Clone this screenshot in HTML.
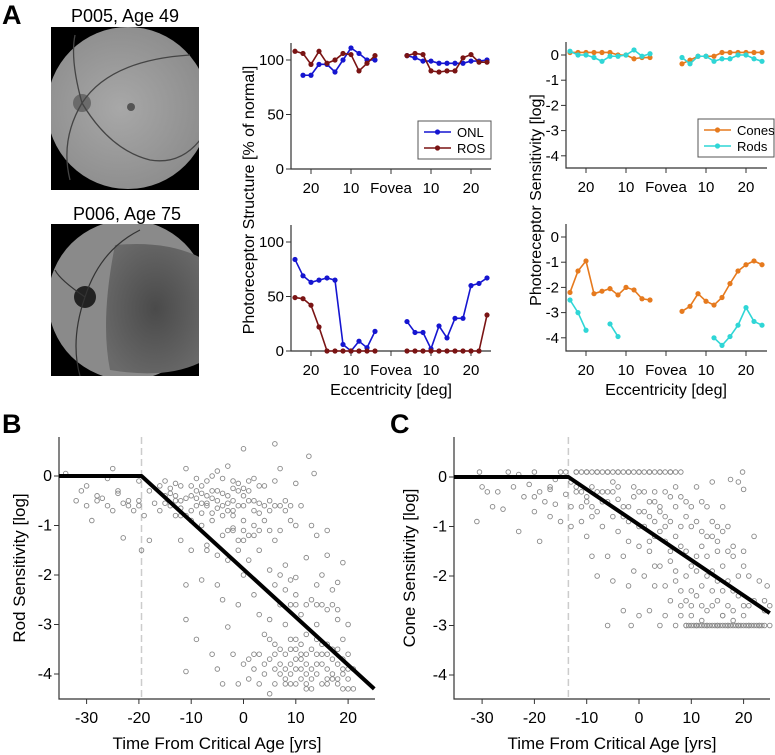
<!DOCTYPE html>
<html><head><meta charset="utf-8"><style>
body{margin:0;background:#fff}
svg{display:block;font-family:"Liberation Sans",Arial,sans-serif}
</style></head><body>
<svg id="fig" width="775" height="755" viewBox="0 0 775 755" xmlns="http://www.w3.org/2000/svg">
<defs>
<radialGradient id="g1" cx="0.45" cy="0.5" r="0.6"><stop offset="0" stop-color="#a8a8a8"/><stop offset="1" stop-color="#8a8a8a"/></radialGradient>
<radialGradient id="g2" cx="0.5" cy="0.5" r="0.6"><stop offset="0" stop-color="#4a4a4a"/><stop offset="1" stop-color="#6a6a6a"/></radialGradient>
<clipPath id="c1"><rect x="51" y="27" width="148" height="163"/></clipPath>
<clipPath id="c2"><rect x="51" y="224" width="148" height="152"/></clipPath>
</defs>
<text x="2" y="24" font-size="27" font-weight="bold">A</text>
<text x="2" y="433" font-size="27" font-weight="bold">B</text>
<text x="390" y="433" font-size="27" font-weight="bold">C</text>
<text x="125" y="22" font-size="18" text-anchor="middle">P005, Age 49</text>
<text x="127" y="220" font-size="18" text-anchor="middle">P006, Age 75</text>
<g>
<rect x="51" y="27" width="148" height="163" fill="#000"/>
<g clip-path="url(#c1)"><circle cx="128" cy="108" r="81" fill="url(#g1)"/>
<circle cx="82" cy="103" r="9" fill="#555" opacity=".7"/><circle cx="131" cy="107" r="4" fill="#555"/>
<path d="M82 103 Q110 60 190 55 M82 103 Q110 150 150 160 Q180 165 200 140 M82 103 Q70 60 75 35 M82 103 Q60 140 70 180" stroke="#444" stroke-width="1.3" fill="none"/></g>
</g>
<g>
<rect x="51" y="224" width="148" height="152" fill="#000"/>
<g clip-path="url(#c2)"><circle cx="128" cy="300" r="80" fill="#8a8a8a"/>
<path d="M115 245 Q170 240 205 260 L205 360 Q170 380 110 370 Q100 320 115 245Z" fill="url(#g2)"/>
<circle cx="85" cy="297" r="11" fill="#222"/>
<path d="M85 297 Q100 250 140 230 M85 297 Q70 340 80 376 M85 297 Q60 280 55 270" stroke="#333" stroke-width="1.2" fill="none"/></g>
</g>
<g id="plots"></g>
</svg>
<script>
// ---- Panel A data (eccentricity in deg, negative = left of fovea) ----
const eccLeft = [-24,-22,-20,-18,-16,-14,-12,-10,-8,-6,-4];
const eccRight = [4,6,8,10,12,14,16,18,20,22,24];
const onlTopL = [null,86,86,96,96,89,100,111,106,100,100];
const onlTopR = [104,102,99,99,97,97,97,97,99,99,100];
const rosTopL = [108,106,96,108,97,100,106,105,90,97,104];
const rosTopR = [104,106,105,90,89,90,90,102,105,98,98];
const onlBotL = [84,69,63,65,67,65,6,0,9,3,18];
const onlBotR = [27,17,17,2,23,12,30,30,60,62,67];
const rosBotL = [49,48,42,22,0,0,0,0,0,0,0];
const rosBotR = [0,0,0,0,0,0,0,0,0,0,33];
const coneTopL = [0.1,0.1,0.1,0.1,0.1,0.1,0,0,-0.15,-0.1,-0.1];
const coneTopR = [-0.35,-0.2,-0.05,-0.05,-0.05,0.1,0.1,0.1,0.1,0.1,0.1];
const rodTopL = [0.15,0,0,-0.1,-0.25,-0.05,-0.05,0,0.2,-0.05,0.05];
const rodTopR = [-0.1,-0.35,-0.05,-0.05,-0.25,-0.15,-0.15,0,0,-0.15,-0.25];
const coneBotL = [-2.2,-1.35,-0.95,-2.25,-2.15,-2.05,-2.3,-2.0,-2.1,-2.45,-2.5];
const coneBotR = [-2.95,-2.75,-2.25,-2.55,-2.7,-2.4,-1.85,-1.35,-1.1,-0.95,-1.1];
const rodBotL = [-2.5,-3.0,-3.7,null,null,-3.45,-3.95,null,null,null,null];
const rodBotR = [null,null,null,null,-4.0,-4.3,-3.95,-3.5,-2.8,-3.35,-3.5];
const eccTicks = [-20,-10,0,10,20];
const eccTickLabels = ["20","10","Fovea","10","20"];
const pctTicks = [0,50,100];
const logTicksA = [0,-1,-2,-3,-4];
// ---- Panel B/C data ----
const rodT = [-34,-25,-31,-30,-29,-28,-27,-26,-25,-24,-23,-23,-22,-21,-20,-20,-19.5,-19,-18,-18,-17,-16,-16,-15,-15,-14,-14,-13,-13,-12,-12,-11,-11,-11,-11,-11,-10,-10,-9,-9,-9,-8,-8,-8,-7,-7,-6,-6,-6,-5,-5,-5,-5,-4,-4,-4,-4,-3,-3,-3,-3,-2,-2,-2,-2,-1,-1,-1,0,0,0,0,0,1,1,1,1,2,2,2,2,3,3,3,3,4,4,4,5,5,5,5,5,6,6,6,6,7,7,7,7,8,8,8,8,9,9,9,10,10,10,10,11,11,11,11,12,12,12,12.5,13,13,13,13.5,14,14,14,15,15,15,16,16,16,16,17,17,17,18,18,18,19,19,19,20,20,20,21,21,-15,-13,-12,-10,-9,-8,-7,-7,-6,-5,-4,-3,-2,-1,0,1,2,3,4,9,10,11,12,13,14,15,16,17,18,19,20,8,9,10,6,4,3,2,-1,0,-2,5,6,7,8,9,10,12,14];
const rodS = [0.05,0.15,-0.3,-0.6,-0.9,-0.5,-0.45,-0.05,-0.7,-0.35,-0.55,-1.25,-0.6,-0.7,-0.5,-0.1,-1.5,-0.8,-0.3,-1.3,-0.55,-0.2,-0.7,-0.4,-0.1,-0.6,-0.25,-0.8,-0.4,-1.3,-0.5,0.15,-0.8,-2.2,-2.9,-3.95,-0.4,-1.5,-0.05,-0.6,-3.3,-0.2,-1.0,-2.1,-0.6,-1.5,-0.3,-0.75,-3.6,0.1,-0.5,-2.2,-3.9,-0.35,-1.2,-2.5,-4.2,-0.7,0.2,-1.7,-3.05,-0.1,-0.5,-1.1,-3.6,-0.3,-2.6,-4.2,0.55,-0.6,-1.1,-2.0,-3.8,-0.1,-1.7,-3.7,-4.1,-0.5,-1.2,-2.4,-3.9,-0.75,-1.5,-2.8,-3.6,-0.9,-3.2,-4.0,-0.5,-1.9,-2.9,-3.7,-4.4,0.65,-0.6,-2.2,-3.4,0.15,-1.1,-2.6,-4.0,-0.7,-1.8,-3.0,-3.6,-0.9,-2.1,-4.2,-0.15,-1.0,-2.4,-3.7,-0.6,-2.8,-3.4,-4.1,-1.65,-3.6,-4.0,0.4,-1.0,-2.5,-4.3,0.05,-1.2,-3.0,-3.8,-2.0,-2.6,-4.2,-1.1,-1.6,-3.4,-3.9,-2.3,-2.6,-4.0,-2.15,-2.7,-3.8,-1.75,-3.3,-4.3,-3.0,-3.6,-4.1,-3.9,-4.3,-0.55,-0.15,-0.65,-0.2,-0.45,-0.55,-0.1,-0.4,0.0,-0.65,-0.05,-0.55,-0.7,-0.15,-0.25,-0.5,-0.05,-0.55,-0.6,-3.5,-4.2,-3.6,-3.8,-3.5,-4.0,-3.6,-4.2,-3.7,-4.2,-3.9,-4.3,-4.2,-3.8,-3.3,-4.2,-3.8,-4.2,-3.6,-1.5,-1.3,-1.05,-1.1,-1.3,-2.0,-2.3,-2.6,-2.05,-2.6,-2.6];
const rodT2 = [-14,-13,-12,-11,-10,-9,-8,-7,-6,-5, -4,-3,-2,-1,0,1,2,3,-12,-10, -8,-6,-4,-2,0,2,4,6,8,-1, 1,3,5,7,9,6,7,8,9,10, 11,12,13,14,15,16,17,18,19,20, 5,7,9,11,13,15,17,19,6,8, 10,12,14,16,18,-30,-28,-26,-24,-22, -20,-32,10,12,14,16,18,-7,-5,-3];
const rodS2 = [-0.35,-0.5,-0.2,-0.45,-0.7,-0.3,-0.75,-0.55,-0.45,-0.3, -0.6,-0.4,-0.25,-0.6,-0.4,-0.3,-0.7,-0.2,-0.8,-0.9, -0.35,-0.9,-0.8,-0.8,-0.9,-1.0,-0.2,-0.1,-0.5,-1.3, -1.2,-1.1,-0.7,-0.6,-0.6,-3.6,-3.8,-3.9,-4.0,-3.9, -3.7,-4.2,-3.9,-3.6,-3.8,-3.6,-4.1,-3.5,-4.0,-3.9, -3.3,-3.5,-3.3,-3.9,-4.1,-3.4,-3.5,-3.7,-3.9,-4.1, -3.5,-4.3,-3.3,-4.1,-4.1,-0.2,-0.4,-0.6,-0.3,-0.5, -0.6,-0.5,-2.6,-3.2,-2.2,-2.7,-2.9,-1.4,-1.6,-1.1];
const coneT = [-31,-30.5,-30,-29,-28,-27,-26,-25,-24,-23,-23,-22,-21,-20,-20,-19,-19,-18,-17,-17,-16,-16,-15,-15,-14,-14,-13,-13,-12,-12,-11,-11,-10,-10,-10,-9,-9,-9,-8,-8,-8,-7,-7,-6,-6,-6,-5,-5,-5,-4,-4,-4,-3,-3,-3,-2,-2,-2,-1.5,-1,-1,0,0,0,0,1,1,1,2,2,2,3,3,3,4,4,4,5,5,5,6,6,6,7,7,7,8,8,8,9,9,9,10,10,10,11,11,11,12,12,12,13,13,13,14,14,14,15,15,15,16,16,16,17,17,17.5,18,18,18,19,19,19,19.8,20,20,20,21,21,22,22,23,23,24,24,25,24.5,-13,-11,-9,-7,-6,-5,-3,-1,1,3,5,7,9.5,10.5,11.5,12.5,13.5,14.5,15.5,16.5,17.5,18.5,19.5,20.5,21.5,22.5,23.5,3,5,7,9,11,13,15,17,-2,0,2,4,6,8,10,12,14,16,18,20];
const coneS = [-0.9,0.1,-0.2,-0.3,-0.6,-0.3,-0.65,0.1,-0.2,-1.1,0.05,-0.4,-0.15,0.1,-0.7,-1.3,-0.3,-0.5,-0.25,-0.8,-0.05,-0.55,0.1,-0.9,-0.35,0.1,-1.0,-0.6,0.1,-0.3,-0.9,0.1,-1.2,-0.5,0.1,-1.6,-0.2,0.1,-2.0,-0.7,0.1,-1.0,-0.3,-3.0,-1.6,0.1,-2.1,-0.8,-0.1,-1.1,0.1,-0.45,-2.7,-1.6,-0.6,-2.2,0.1,-0.9,-3.0,-1.9,-0.4,-2.8,-1.4,0.1,-0.7,-2.0,-1.0,-0.3,-2.7,-1.5,0.1,-2.2,-0.5,-1.2,-3.0,-1.8,0.1,-2.8,-1.0,-0.3,-2.5,-1.7,0.1,-3.0,-2.1,-0.6,-2.8,-1.4,0.1,-3.0,-2.0,-0.5,-3.0,-2.6,-1.0,-3.0,-1.6,-0.2,-3.0,-2.2,-1.1,-3.0,-2.7,-0.6,-3.0,-1.9,-0.1,-3.0,-2.5,-1.0,-3.0,-2.3,-0.6,-3.0,-1.5,-0.05,-3.0,-2.7,-1.4,-3.0,-2.0,-0.1,0.1,-3.0,-1.8,-0.25,-3.0,-2.6,-1.2,-3.0,-2.1,-3.0,-3.0,-2.5,-3.0,-2.2,-0.1,-0.3,-0.6,0.1,-0.3,0.1,0.1,0.1,0.1,0.1,0.1,0.1,-3.0,-3.0,-3.0,-3.0,-3.0,-3.0,-3.0,-3.0,-3.0,-3.0,-3.0,-3.0,-3.0,-3.0,-3.0,-0.9,-1.3,-1.2,-1.5,-1.9,-1.6,-1.5,-2.1,-1.3,-1.0,-0.8,-0.7,-0.9,-2.3,-2.3,-2.6,-2.3,-2.8,-2.3,-2.6];
const coneT2 = [-12,-10,-8,-6,-4,-2,0,2,4,6, -12,-10,-8,-6,-4,-2,0,2,4,6, -11,-9,-7,-5,-3,-1,1,3,5,7, 8,9,10,11,12,13,14,15,16,17, 2,4,6,8,10,12,14,16,18,20, 3,5,7,9,11,13,15,17,19,21, 8,10,12,14,16,18,20,22,24,25, 9,11,13,15,17,19,21,23,-20,-17];
const coneS2 = [0.1,0.1,0.1,0.1,0.1,0.1,0.1,0.1,0.1,0.1, -0.2,-0.4,-0.3,-0.5,-0.2,-0.6,-0.3,-0.5,-0.6,-0.4, -0.6,-0.8,-0.5,-0.3,-0.8,-0.2,-0.7,-0.3,-0.8,-0.2, -0.4,-0.8,-0.6,-0.9,-0.5,-1.2,-0.9,-1.3,-1.1,-1.0, -1.3,-1.1,-1.5,-1.0,-1.8,-1.4,-1.2,-1.8,-1.6,-1.5, -1.8,-2.2,-1.9,-2.5,-2.4,-2.0,-2.1,-2.6,-2.4,-2.0, -2.6,-2.8,-2.9,-2.6,-2.8,-2.9,-2.8,-2.5,-2.7,-2.6, -3.0,-3.0,-3.0,-3.0,-3.0,-3.0,-3.0,-3.0,-0.4,-0.2];
const rodBreak = -19.5, rodEndT = 25, rodEndS = -4.3;
const coneBreak = -13.5, coneEndT = 25, coneEndS = -2.75;
const timeTicks = [-30,-20,-10,0,10,20];
const sensTicks = [0,-1,-2,-3,-4];

const NS = "http://www.w3.org/2000/svg";
const root = document.getElementById('plots');
function el(tag, attrs, parent, txt) {
  const e = document.createElementNS(NS, tag);
  for (const k in attrs) e.setAttribute(k, attrs[k]);
  if (txt !== undefined) e.textContent = txt;
  (parent || root).appendChild(e);
  return e;
}
function axes(g, x0, x1, yTop, yBot, xf, yf, xt, xtl, yt, labY, fs) {
  const a = el('path', {d:`M${x0} ${yTop}V${yBot}H${x1}`, stroke:'#333', fill:'none', 'stroke-width':1.2}, g);
  
  
  xt.forEach((v,i)=>{
    el('line',{x1:xf(v),x2:xf(v),y1:yBot,y2:yBot+5,stroke:'#333'},g);
    const t = el('text',{x:xf(v),y:labY,'font-size':fs,'text-anchor':'middle'},g,xtl[i]);
    
    
  });
  yt.forEach(v=>{
    el('line',{x1:x0-5,x2:x0,y1:yf(v),y2:yf(v),stroke:'#333'},g);
    const t = el('text',{x:x0-7,y:yf(v)+5,'font-size':fs,'text-anchor':'end'},g,String(v));
    
    
  });
}
function series(g, xs, ys, xf, yf, color, name) {
  const s = el('g', {}, g);
  
  
  let d = '', pen = false;
  xs.forEach((x,i)=>{
    const y = ys[i];
    if (y === null) { pen = false; return; }
    d += (pen ? 'L' : 'M') + xf(x) + ' ' + yf(y);
    pen = true;
  });
  el('path',{d:d,stroke:color,fill:'none','stroke-width':1.6},s);
  xs.forEach((x,i)=>{ if (ys[i]!==null) el('circle',{cx:xf(x),cy:yf(ys[i]),r:2.6,fill:color},s); });
}
function legend(g, x, y, w, items) {
  const l = el('g', {}, g);
  
  
  el('rect',{x:x,y:y,width:w,height:38,fill:'#fff',stroke:'#555'},l);
  items.forEach((it,i)=>{
    const yy = y+11+i*16;
    const e = el('g', {}, l);
    
    
    el('line',{x1:x+6,x2:x+33,y1:yy,y2:yy,stroke:it[1],'stroke-width':1.6},e);
    el('circle',{cx:x+19.5,cy:yy,r:2.6,fill:it[1]},e);
    el('text',{x:x+39,y:yy+5,'font-size':13},e,it[0]);
  });
}
const BLUE='#1515d0', RED='#7a1414', ORANGE='#e67a1e', CYAN='#2fd6d6';

function structPanel(yZero, yTop, top) {
  const g = el('g', {});
  
  
  const xf = e => 391 + e*4, yf = v => yZero - v*1.09;
  axes(g, 291, 491, yTop, yZero, xf, yf, eccTicks, eccTickLabels, pctTicks, yZero+24, 15);
  if (top) {
    series(g, eccLeft, onlTopL, xf, yf, BLUE, 'onl-series'); series(g, eccRight, onlTopR, xf, yf, BLUE, 'onl-series-right');
    series(g, eccLeft, rosTopL, xf, yf, RED, 'ros-series'); series(g, eccRight, rosTopR, xf, yf, RED, 'ros-series-right');
    legend(g, 418, 121, 73, [['ONL',BLUE],['ROS',RED]]);
  } else {
    series(g, eccLeft, onlBotL, xf, yf, BLUE, 'onl-series'); series(g, eccRight, onlBotR, xf, yf, BLUE, 'onl-series-right');
    series(g, eccLeft, rosBotL, xf, yf, RED, 'ros-series'); series(g, eccRight, rosBotR, xf, yf, RED, 'ros-series-right');
  }
}
structPanel(169, 43, true);
structPanel(351, 225, false);
function sensPanel(yZero, yBot, top) {
  const g = el('g', {});
  
  
  const xf = e => 666 + e*4, yf = v => yZero - v*25.2;
  axes(g, 566, 767, yZero-13, yBot, xf, yf, eccTicks, eccTickLabels, logTicksA, yBot+24, 15);
  if (top) {
    series(g, eccLeft, coneTopL, xf, yf, ORANGE, 'cones-series'); series(g, eccRight, coneTopR, xf, yf, ORANGE, 'cones-series-right');
    series(g, eccLeft, rodTopL, xf, yf, CYAN, 'rods-series'); series(g, eccRight, rodTopR, xf, yf, CYAN, 'rods-series-right');
    legend(g, 698, 119, 76, [['Cones',ORANGE],['Rods',CYAN]]);
  } else {
    series(g, eccLeft, coneBotL, xf, yf, ORANGE, 'cones-series'); series(g, eccRight, coneBotR, xf, yf, ORANGE, 'cones-series-right');
    series(g, eccLeft, rodBotL, xf, yf, CYAN, 'rods-series'); series(g, eccRight, rodBotR, xf, yf, CYAN, 'rods-series-right');
  }
}
sensPanel(55, 168, true);
sensPanel(237, 351, false);
function title(x, y, txt, rot, name, fs) {
  const t = el('text',{x:x,y:y,'font-size':fs||16,'text-anchor':'middle',transform:rot?`rotate(-90 ${x} ${y})`:''},root,txt);
  
  
}
title(391, 395, 'Eccentricity [deg]', false, 'x-axis-title-structure');
title(666, 395, 'Eccentricity [deg]', false, 'x-axis-title-sensitivity');
title(254, 200, 'Photoreceptor Structure [% of normal]', true, 'y-axis-title-structure');
title(541, 200, 'Photoreceptor Sensitivity [log]', true, 'y-axis-title-sensitivity');

function scatter(x0, x1, zeroX, yZero, ts, ss, ts2, ss2, brk, endT, endS, name, ytitle, ytx) {
  const g = el('g', {});
  
  
  const xf = t => zeroX + t*5.23, yf = v => yZero - v*49.5;
  axes(g, x0, x1, 437, 699, xf, yf, timeTicks, timeTicks.map(String), sensTicks, 723, 16);
  const dl = el('line',{x1:xf(brk),x2:xf(brk),y1:437,y2:699,stroke:'#ccc','stroke-width':1.5,'stroke-dasharray':'7 4'},g);
  
  
  const pts = el('g', {}, g);
  
  
  ts.forEach((t,i)=> el('circle',{cx:xf(t),cy:yf(ss[i]),r:2.3,fill:'none',stroke:'#888','stroke-width':0.9},pts));
  ts2.forEach((t,i)=> el('circle',{cx:xf(t),cy:yf(ss2[i]),r:2.3,fill:'none',stroke:'#888','stroke-width':0.9},pts));
  const fit = el('path',{d:`M${x0} ${yf(0)}H${xf(brk)}L${xf(endT)} ${yf(endS)}`,stroke:'#000','stroke-width':4,fill:'none','stroke-linejoin':'round'},g);
  
  
  title((x0+x1)/2, 749, 'Time From Critical Age [yrs]', false, 'x-axis-title', 17);
  title(ytx, 568, ytitle, true, 'y-axis-title', 17);
}
scatter(59, 375, 243.5, 476, rodT, rodS, rodT2, rodS2, rodBreak, rodEndT, rodEndS, 'rod-scatter-plot', 'Rod Sensitivity [log]', 25);
scatter(454, 770, 639, 477, coneT, coneS, coneT2, coneS2, coneBreak, coneEndT, coneEndS, 'cone-scatter-plot', 'Cone Sensitivity [log]', 415);
</script>
</body></html>
